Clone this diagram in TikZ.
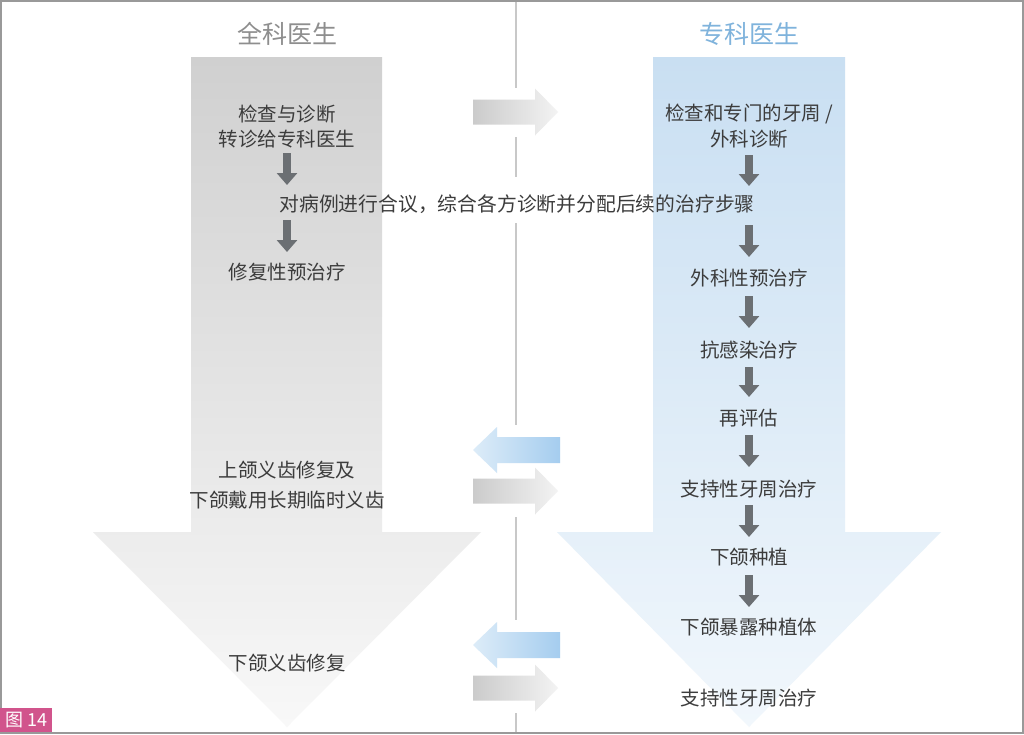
\documentclass[tikz,border=0pt]{standalone}
\usepackage{fontspec}
\setmainfont{Noto Sans CJK SC}
\usetikzlibrary{arrows.meta}
\definecolor{txt}{HTML}{3C3C3C}
\definecolor{arrc}{HTML}{6B6F73}
\definecolor{ttlgray}{HTML}{8E8E8E}
\definecolor{ttlblue}{HTML}{7FB3DC}
\definecolor{divc}{HTML}{C8C8C8}
\definecolor{gTop}{HTML}{D0D0D0}
\definecolor{gBot}{HTML}{F8F8F8}
\definecolor{bTop}{HTML}{C9DFF2}
\definecolor{bBot}{HTML}{F1F7FC}
\definecolor{gA}{HTML}{CBCBCB}
\definecolor{gB}{HTML}{F3F3F3}
\definecolor{bA}{HTML}{DDECF8}
\definecolor{bB}{HTML}{A5CDEF}
\definecolor{pinkc}{HTML}{D1548C}
\definecolor{bordc}{HTML}{999999}
\tikzset{
  garrow/.pic={\shade[left color=gA, right color=gB] (-42.5,-12.5) -- (19.5,-12.5) -- (19.5,-23.5) -- (42.5,0) -- (19.5,23.5) -- (19.5,12.5) -- (-42.5,12.5) -- cycle;},
  barrow/.pic={\shade[left color=bA, right color=bB] (-43.5,0) -- (-19.5,-23) -- (-19.5,-13) -- (43.5,-13) -- (43.5,13) -- (-19.5,13) -- (-19.5,23) -- cycle;}
}
\begin{document}
\begin{tikzpicture}[x=1pt,y=-1pt,
  lbl/.style={font=\fontsize{19.5}{23}\selectfont, text=txt, inner sep=0pt, text height=0.62em, text depth=0.38em, yshift=-6.5pt},
  ttl/.style={font=\fontsize{25}{30}\selectfont, inner sep=0pt, text height=0.62em, text depth=0.38em, yshift=-7.5pt},
  dn/.style={draw=arrc, line width=8pt, -{Triangle[length=12pt,width=20pt]}},
  divl/.style={draw=divc, line width=1.2pt}]
\useasboundingbox (0,0) rectangle (1024,734);
\fill[white] (0,0) rectangle (1024,734);
% big arrows
\shade[top color=gTop, bottom color=gBot] (191,57) -- (382,57) -- (382,532) -- (481,532) -- (287,727) -- (93,532) -- (191,532) -- cycle;
\shade[top color=bTop, bottom color=bBot] (653,57) -- (845,57) -- (845,532) -- (941,532) -- (749,727) -- (557,532) -- (653,532) -- cycle;
% divider
\draw[divl] (516,0) -- (516,88);
\draw[divl] (516,137) -- (516,177);
\draw[divl] (516,223) -- (516,425);
\draw[divl] (516,517) -- (516,620);
\draw[divl] (516,713) -- (516,734);
% centre arrows
\pic at (515.5,112) {garrow};
\pic at (516.5,450) {barrow};
\pic at (515.5,491) {garrow};
\pic at (516.5,645) {barrow};
\pic at (515.5,688) {garrow};
% titles
\node[ttl, text=ttlgray] (tl) at (287,35) {全科医生};
\node[ttl, text=ttlblue] (tr) at (749,35) {专科医生};
% left column
\node[lbl] (L1a) at (287,114) {检查与诊断};
\node[lbl] (L1b) at (287,139) {转诊给专科医生};
\node[lbl, font=\fontsize{19.8}{23}\selectfont] (M) at (517,204) {对病例进行合议，综合各方诊断并分配后续的治疗步骤};
\node[lbl] (L2) at (287,272) {修复性预治疗};
\node[lbl] (L3a) at (287,470) {上颌义齿修复及};
\node[lbl] (L3b) at (287,500) {下颌戴用长期临时义齿};
\node[lbl] (L4) at (287,663) {下颌义齿修复};
% right column
\node[lbl] (R1a) at (749,113) {检查和专门的牙周 /};
\node[lbl] (R1b) at (749,139) {外科诊断};
\node[lbl] (R2) at (749,278) {外科性预治疗};
\node[lbl] (R3) at (749,350) {抗感染治疗};
\node[lbl] (R4) at (749,418) {再评估};
\node[lbl] (R5) at (749,489) {支持性牙周治疗};
\node[lbl] (R6) at (749,557) {下颌种植};
\node[lbl] (R7) at (749,627) {下颌暴露种植体};
\node[lbl] (R8) at (749,698) {支持性牙周治疗};
% down arrows
\draw[dn, shorten <=7.5pt, shorten >=25.5pt] (L1b.center) -- (L1b.center |- M.center);
\draw[dn, shorten <=9.5pt, shorten >=26.5pt] (L2.center |- M.center) -- (L2.center);
\draw[dn, shorten <=9.5pt, shorten >=24.5pt] (R1b.center) -- (R1b.center |- M.center);
\draw[dn, shorten <=14.5pt, shorten >=27.5pt] (R2.center |- M.center) -- (R2.center);
\draw[dn, shorten <=11.5pt, shorten >=28.5pt] (R2.center) -- (R3.center);
\draw[dn, shorten <=10.5pt, shorten >=27.5pt] (R3.center) -- (R4.center);
\draw[dn, shorten <=10.5pt, shorten >=28.5pt] (R4.center) -- (R5.center);
\draw[dn, shorten <=9.5pt, shorten >=26.5pt] (R5.center) -- (R6.center);
\draw[dn, shorten <=11.5pt, shorten >=26.5pt] (R6.center) -- (R7.center);
% frame and label
\draw[bordc, line width=2pt] (1,1) rectangle (1023,733);
\node[fill=pinkc, text=white, font=\fontsize{18}{20}\selectfont, minimum width=52pt, minimum height=24pt, inner sep=0pt, anchor=south west] (fig) at (0,732) {图 14};
\end{tikzpicture}
\end{document}
